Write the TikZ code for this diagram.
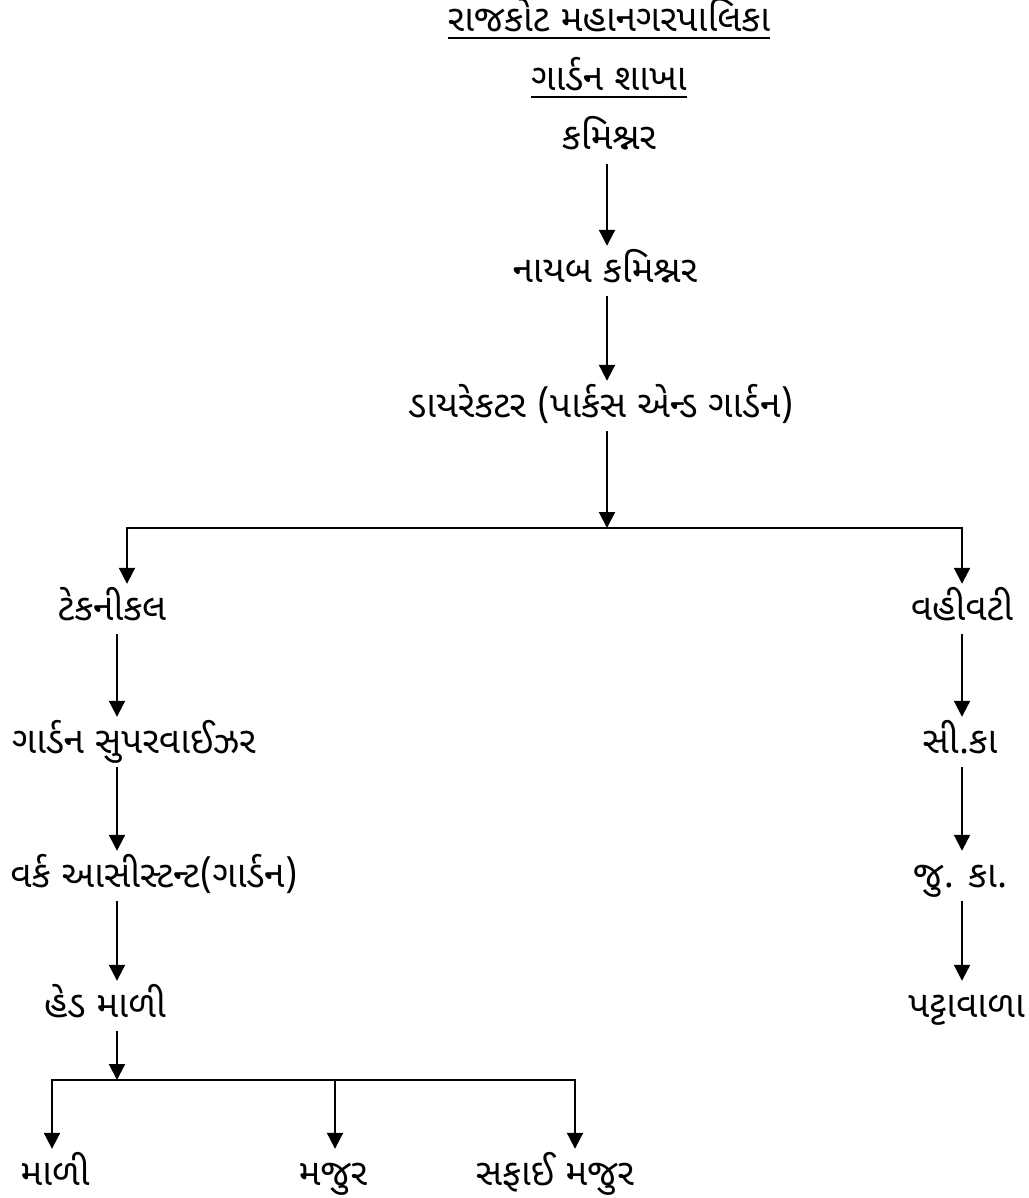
\documentclass[tikz,border=0pt]{standalone}
\usepackage{fontspec}
\newfontfamily\gujfont[Script=Gujarati]{Noto Sans Gujarati UI}
\usetikzlibrary{arrows.meta}
\begin{document}
\begin{tikzpicture}[x=1pt,y=-1pt,font=\gujfont\fontsize{37}{44}\selectfont,
  lbl/.style={inner sep=0pt,anchor=base,text height=36pt,text depth=14pt},
  arr/.style={line width=2.1pt,-{Triangle[width=16pt,length=16pt]}},
  uline/.style={line width=1.5pt}]

\useasboundingbox (0,0) rectangle (1028,1198);

% Shirshak
\node[lbl] (rmc) at (609,32) {રાજકોટ મહાનગરપાલિકા};
\node[lbl] (shakha) at (609,91) {ગાર્ડન શાખા};
\draw[uline] ([yshift=-6pt]rmc.base west) -- ([yshift=-6pt]rmc.base east);
\draw[uline] ([yshift=-6pt]shakha.base west) -- ([yshift=-6pt]shakha.base east);

% Madhya
\node[lbl] (komm) at (609,150) {કમિશ્નર};
\node[lbl] (naib) at (605,282) {નાયબ કમિશ્નર};
\node[lbl] (dir) at (601,417) {ડાયરેકટર (પાર્કસ એન્ડ ગાર્ડન)};

% Technical
\node[lbl] (tech) at (112,620) {ટેકનીકલ};
\node[lbl] (sup) at (134,753) {ગાર્ડન સુપરવાઈઝર};
\node[lbl] (wa) at (154,887) {વર્ક આસીસ્ટન્ટ(ગાર્ડન)};
\node[lbl] (head) at (105,1017) {હેડ માળી};
\node[lbl] (mali) at (55,1185) {માળી};
\node[lbl] (majur) at (333,1185) {મજુર};
\node[lbl] (safai) at (555,1185) {સફાઈ મજુર};

% Vahivati
\node[lbl] (adm) at (962,620) {વહીવટી};
\node[lbl] (sika) at (960,753) {સી.કા};
\node[lbl] (juka) at (960,887) {જુ. કા.};
\node[lbl,anchor=base east] (patta) at (1025,1017) {પટ્ટાવાળા};

\coordinate (mx) at (607,0);
\coordinate (lx) at (117,0);
\coordinate (rx) at (962,0);
\coordinate (bl) at (127,528);
\coordinate (hl) at (52,1080);
\coordinate (hm) at (335,1080);
\coordinate (hr) at (575,1080);

\draw[arr] (komm.south -| mx) -- (naib.north -| mx);
\draw[arr] (naib.south -| mx) -- (dir.north -| mx);
\draw[arr] (dir.south -| mx) -- (mx |- bl);
\draw[arr] (mx |- bl) -- (bl) -- (tech.north -| bl);
\draw[arr] (mx |- bl) -| (adm.north -| rx);

\draw[arr] (tech.south -| lx) -- (sup.north -| lx);
\draw[arr] (sup.south -| lx) -- (wa.north -| lx);
\draw[arr] (wa.south -| lx) -- (head.north -| lx);
\draw[arr] (head.south -| lx) -- (lx |- hl);
\draw[arr] (hm) -- (hl) -- (mali.north -| hl);
\draw[arr] (hm) -- (majur.north -| hm);
\draw[arr] (hm) -| (safai.north -| hr);

\draw[arr] (adm.south -| rx) -- (sika.north -| rx);
\draw[arr] (sika.south -| rx) -- (juka.north -| rx);
\draw[arr] (juka.south -| rx) -- (patta.north -| rx);

\end{tikzpicture}
\end{document}
